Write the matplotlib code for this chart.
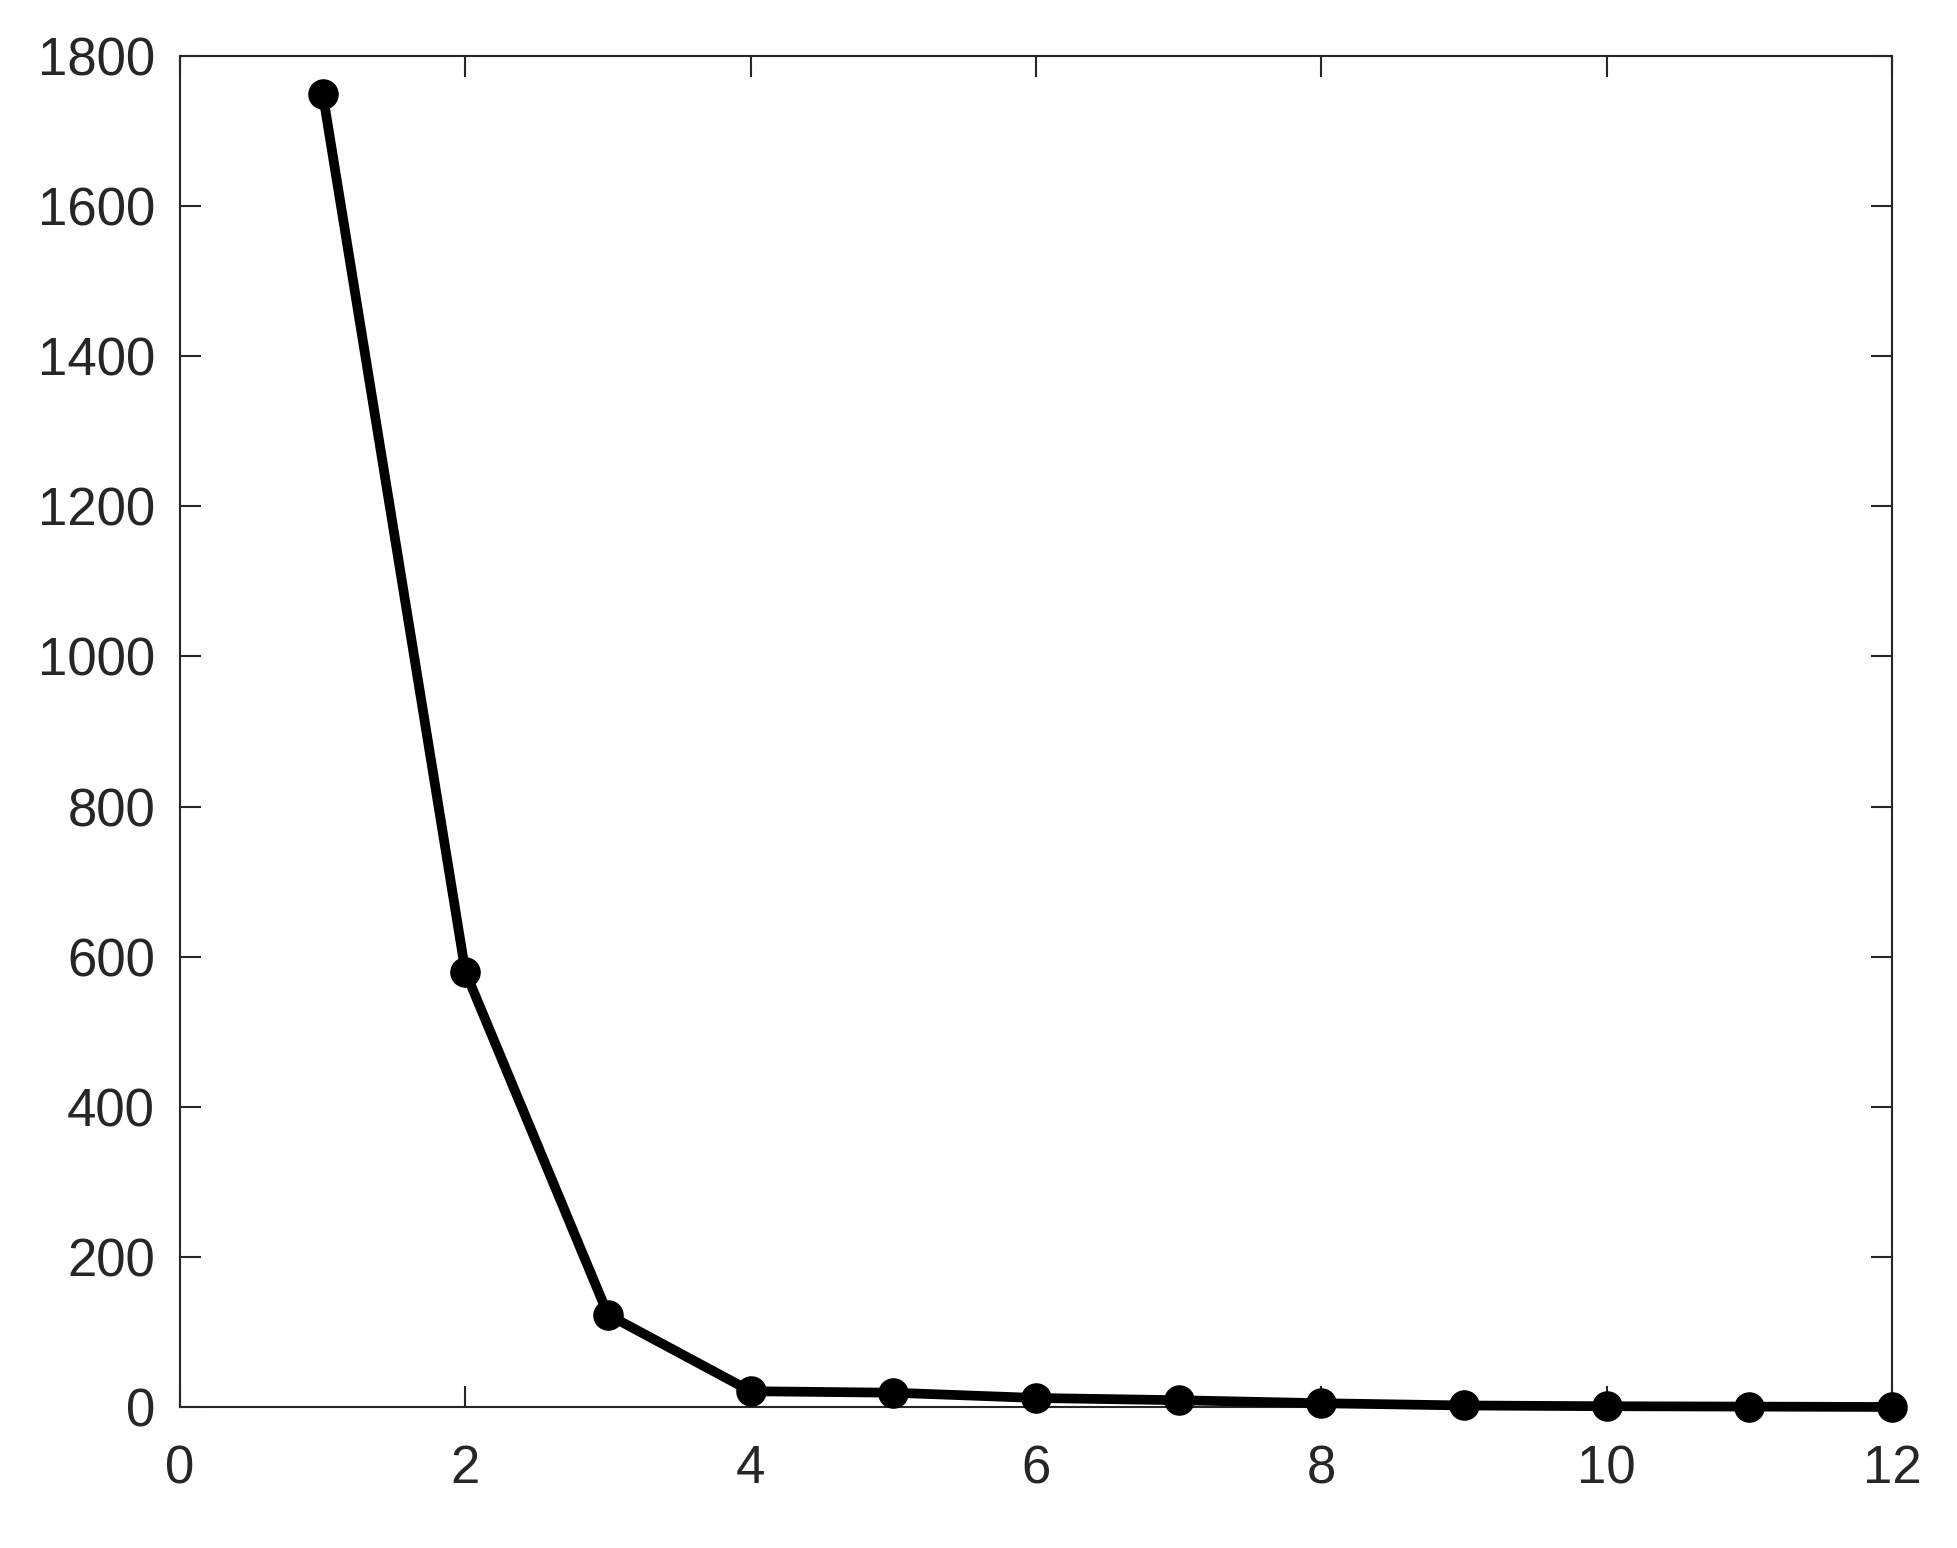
"""Elbow-style curve: value drops sharply over the first few steps, then flattens."""

import matplotlib
matplotlib.use('Agg')
import matplotlib.pyplot as plt

# data
steps = [1, 2, 3, 4, 5, 6, 7, 8, 9, 10, 11, 12]
values = [1750, 580, 123, 21, 19, 12, 9, 5, 2, 1, 0.5, 0]

x_ticks = [0, 2, 4, 6, 8, 10, 12]
y_ticks = [0, 200, 400, 600, 800, 1000, 1200, 1400, 1600, 1800]


def main():
    plt.rcParams['font.family'] = ['Liberation Sans', 'DejaVu Sans']
    fig = plt.figure(figsize=(19.57, 15.48), dpi=100)
    ax = fig.add_axes([0.092, 0.0911, 0.8748, 0.8727])

    ax.plot(steps, values, color='black', linewidth=7, marker='o',
            markersize=21, clip_on=False, zorder=3)

    ax.set_xlim(0, 12)
    ax.set_ylim(0, 1800)
    ax.set_xticks(x_ticks)
    ax.set_yticks(y_ticks)

    edge = '#262626'
    for sp in ax.spines.values():
        sp.set_color(edge)
        sp.set_linewidth(1.5)
    ax.tick_params(direction='in', length=15, width=1.5, colors=edge,
                   labelsize=38, top=True, right=True)
    ax.tick_params(axis='x', pad=27)
    ax.tick_params(axis='y', pad=18)

    fig.savefig('out.png', dpi=100, facecolor='white')


if __name__ == "__main__":
    main()
